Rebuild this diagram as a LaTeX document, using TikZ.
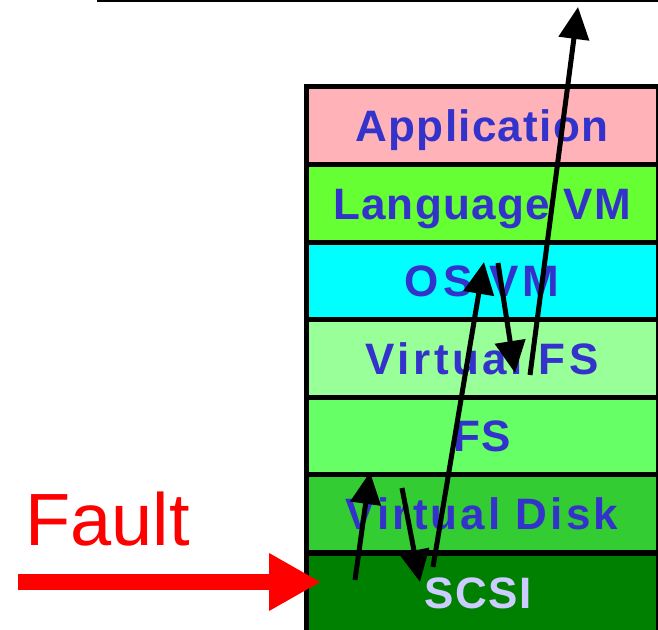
\documentclass[tikz,border=0pt]{standalone}
\usepackage{fontspec}
\setmainfont{Liberation Sans}
\newfontfamily\layerfont[LetterSpace=3]{Liberation Sans}
\usetikzlibrary{arrows.meta}
\definecolor{appfill}{HTML}{FFB2B8}
\definecolor{langfill}{HTML}{66FF33}
\definecolor{osfill}{HTML}{00FFFF}
\definecolor{vfsfill}{HTML}{99FF99}
\definecolor{fsfill}{HTML}{66FF66}
\definecolor{vdfill}{HTML}{33CC33}
\definecolor{scsifill}{HTML}{008000}
\definecolor{layerblue}{HTML}{3333CC}
\definecolor{scsitext}{HTML}{CCCCFF}
\begin{document}
\begin{tikzpicture}[x=1pt,y=1pt,
  layer/.style={draw=black, line width=5pt, minimum width=352pt,
    minimum height=77.6pt, inner sep=0pt, text height=31.5pt, text depth=0pt,
    font=\layerfont\bfseries\fontsize{44}{44}\selectfont, text=layerblue},
  call/.style={line width=5pt, -{Triangle[length=32pt,width=30pt]}},
  faultarrow/.style={line width=16pt, red, -{Triangle[length=52pt,width=54pt]}}]
  \useasboundingbox (0,0) rectangle (658,629);
  \clip (0,0) rectangle (658,629);

  % top rule
  \coordinate (ruleL) at (97,628);
  \coordinate (ruleR) at (658,628);
  \draw[line width=2pt] (ruleL) -- (ruleR);

  % layer stack
  \node[layer, fill=appfill]  (app)  at (482,503.2) {Application};
  \node[layer, fill=langfill] (lang) at (482,425.6) {Language VM};
  \node[layer, fill=osfill]   (os)   at (482,348.0) {\addfontfeature{LetterSpace=10}OS VM};
  \node[layer, fill=vfsfill]  (vfs)  at (482,270.4) {\addfontfeature{LetterSpace=8}Virtual FS};
  \node[layer, fill=fsfill]   (fs)   at (482,192.8) {FS};
  \node[layer, fill=vdfill]   (vd)   at (482,115.2) {\addfontfeature{LetterSpace=7}Virtual Disk};
  \node[layer, fill=scsifill, text=scsitext, minimum height=79pt]
       (scsi) at (482,36.5) {\hspace*{-8pt}SCSI};

  % call path through the stack
  \coordinate (a1s) at (355,49);  \coordinate (a1e) at (370,157);
  \coordinate (a2s) at (402,141); \coordinate (a2e) at (420,47);
  \coordinate (a3s) at (433,62);  \coordinate (a3e) at (484,367);
  \coordinate (a4s) at (498,366); \coordinate (a4e) at (515,256);
  \coordinate (a5s) at (530,254); \coordinate (a5e) at (578,622);
  \draw[call] (a1s) -- (a1e);
  \draw[call] (a2s) -- (a2e);
  \draw[call] (a3s) -- (a3e);
  \draw[call] (a4s) -- (a4e);
  \draw[call] (a5s) -- (a5e);

  % injected fault
  \node[anchor=base west, inner sep=0pt, text=red,
        font=\fontsize{74}{74}\selectfont] (fault) at (25,84) {Fault};
  \coordinate (fs0) at (18,47);
  \coordinate (fs1) at (321,47);
  \draw[faultarrow] (fs0) -- (fs1);
\end{tikzpicture}
\end{document}
